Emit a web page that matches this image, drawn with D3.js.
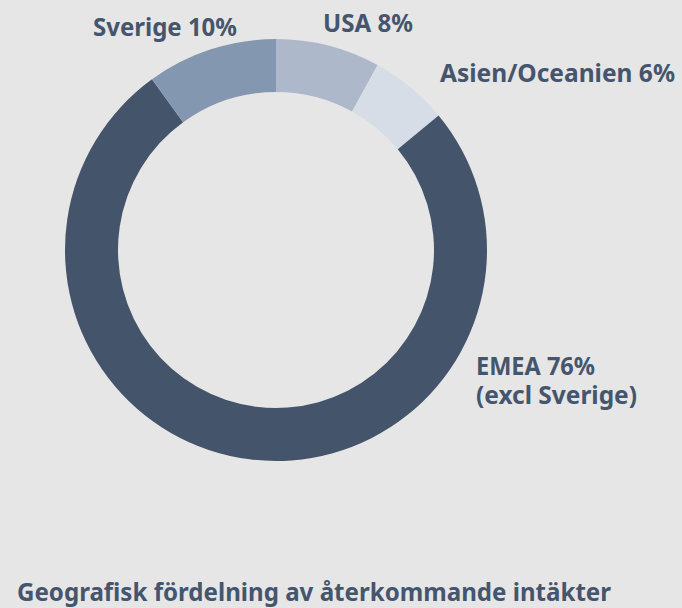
<!DOCTYPE html>
<html>
<head>
<meta charset="utf-8">
<script src="https://cdn.jsdelivr.net/npm/d3@7"></script>
<style>
  html, body { margin: 0; padding: 0; background: #e6e6e6; }
  svg { display: block; }
  text { font-family: "Noto Sans", "Open Sans", sans-serif; font-weight: 700; fill: #45556d; }
</style>
</head>
<body>
<svg id="chart" width="682" height="608"></svg>
<script>
// ---- data ----
const regions = ["USA", "Asien/Oceanien", "EMEA", "Sverige"];
const shares = [8, 6, 76, 10];
const labelLines = [["USA 8%"], ["Asien/Oceanien 6%"], ["EMEA 76%", "(excl Sverige)"], ["Sverige 10%"]];
const colors = ["#adb9cb", "#d6dde6", "#44546b", "#8497b0"];
const title = "Geografisk fördelning av återkommande intäkter";

// ---- layout ----
const W = 682, H = 608;
const cx = 276, cy = 250, outerR = 211, innerR = 158;
const fontSize = 25, lineGap = 29;
// label text placement (left x, first baseline y, target width per line)
const labelLayout = [
  { x: 323, y: 32, widths: [90] },
  { x: 440, y: 82, widths: [235] },
  { x: 476, y: 375, widths: [119, 161] },
  { x: 93, y: 36, widths: [144] }
];
const titleLayout = { x: 17, y: 601, width: 594 };

const svg = d3.select("#chart");
svg.append("rect").attr("width", W).attr("height", H).attr("fill", "#e6e6e6");

const data = regions.map((r, i) => ({ region: r, value: shares[i], color: colors[i], lines: labelLines[i], layout: labelLayout[i] }));

const pie = d3.pie().value(d => d.value).sort(null);
const arc = d3.arc().innerRadius(innerR).outerRadius(outerR);

const g = svg.append("g").attr("transform", `translate(${cx},${cy})`);
g.selectAll("path")
  .data(pie(data))
  .join("path")
  .attr("d", arc)
  .attr("fill", d => d.data.color);

// labels (multi-line labels as one text element with tspans)
const lbl = svg.append("g");
data.forEach(d => {
  const t = lbl.append("text").attr("font-size", fontSize);
  d.lines.forEach((line, j) => {
    t.append("tspan")
      .attr("x", d.layout.x)
      .attr("y", d.layout.y + j * lineGap)
      .attr("textLength", d.layout.widths[j])
      .attr("lengthAdjust", "spacingAndGlyphs")
      .text(line);
  });
});

svg.append("text")
  .attr("x", titleLayout.x)
  .attr("y", titleLayout.y)
  .attr("font-size", fontSize)
  .attr("textLength", titleLayout.width)
  .attr("lengthAdjust", "spacingAndGlyphs")
  .text(title);
</script>
</body>
</html>
